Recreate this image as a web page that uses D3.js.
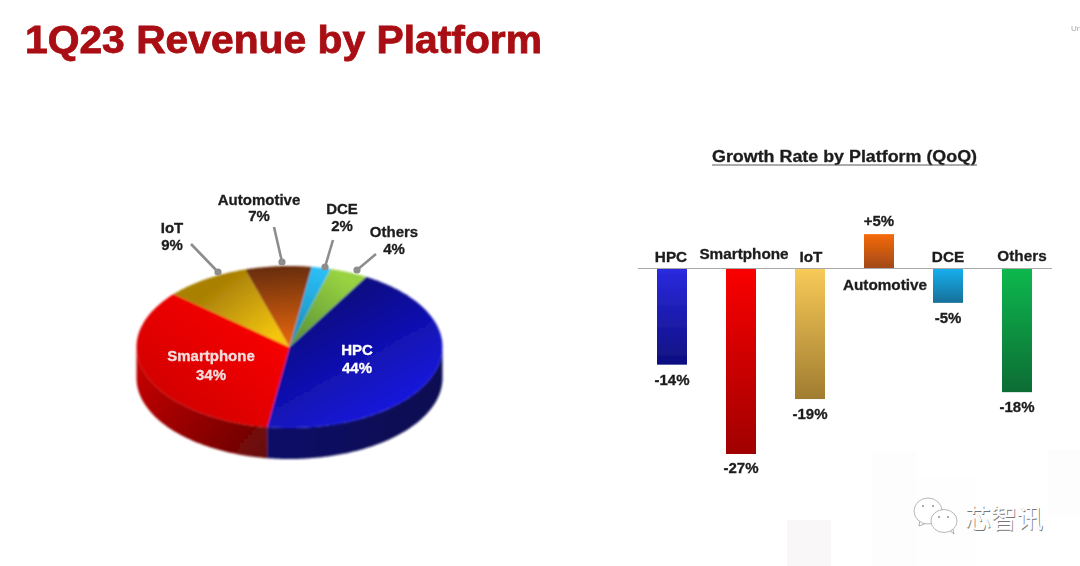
<!DOCTYPE html>
<html><head><meta charset="utf-8">
<script src="https://cdn.jsdelivr.net/npm/d3@7"></script>
<style>
html,body{margin:0;padding:0;background:#fff;overflow:hidden}
svg{display:block}
</style></head><body>
<svg id="c" width="1080" height="566" font-family="'Liberation Sans'" font-weight="bold"></svg>
<script>
// ---- data ----
const pieLabels = ["HPC","Smartphone","IoT","Automotive","DCE","Others"];
const pieValues = [44,34,9,7,2,4];
const barLabels = ["HPC","Smartphone","IoT","Automotive","DCE","Others"];
const barValues = [-14,-27,-19,5,-5,-18];
const barValueText = ["-14%","-27%","-19%","+5%","-5%","-18%"];
// face gradient [x1,y1,x2,y2, from, to]; wall gradient the same
const faceColors = [
  [330,285,400,410,"#0c0c78","#1616e0"],
  [270,330,190,425,"#f80000","#d20000"],
  [225,280,270,340,"#a98006","#f4c60c"],
  [280,268,285,340,"#6a2e08","#e0640a"],
  [320,268,295,340,"#2cc0f8","#1a8cb8"],
  [345,280,295,340,"#98d240","#5a9438"]
];
const wallColors = [
  [290,420,420,440,"#0f0f66","#0a0a52"],
  [137,350,265,459,"#cc0000","#640808"]
];
const barColors = [
  ["#2a2ae0","#0f0f80"],["#fa0000","#a00000"],["#f8ca58","#a07c30"],
  ["#f56a06","#a0481a"],["#18b0ee","#176f98"],["#0cb84e","#0a6c34"]
];
// ---- layout ----
const svg = d3.select("#c");
const defs = svg.append("defs");
const mkBlur=(id,s)=>defs.append("filter").attr("id",id).attr("filterUnits","userSpaceOnUse").attr("x",0).attr("y",0).attr("width",1080).attr("height",566)
  .append("feGaussianBlur").attr("stdDeviation",s);
mkBlur("soft",0.6); mkBlur("softer",0.8);

// faint background squares
const bgSquares = [[787,520,44,46,"#f9f7f7"],[872,451,44,115,"#fefdfd"],[916,478,60,88,"#fefefe"],[1048,450,32,66,"#fefdfd"]];
svg.append("g").selectAll("rect").data(bgSquares).join("rect")
  .attr("x",d=>d[0]).attr("y",d=>d[1]).attr("width",d=>d[2]).attr("height",d=>d[3]).attr("fill",d=>d[4]);

const root = svg.append("g").attr("filter","url(#soft)");
const label = (x,y,fs,fill,str,anchor,sw)=>root.append("text").attr("x",x).attr("y",y).attr("font-size",fs)
  .attr("fill",fill).attr("stroke",fill).attr("stroke-width",sw===undefined?0.3:sw).attr("text-anchor",anchor||"middle").text(str);

// title
label(25,53,38.5,"#a90d12","1Q23 Revenue by Platform","start",0.8).attr("textLength",517).attr("lengthAdjust","spacingAndGlyphs");
label(1071,31,8,"#a8a8a8","Un","start",0).attr("font-weight","normal");

// ---- 3D pie ----
const cx=289.5, cy=347, rx=153, ry=81, depth=31;
const pie = d3.pie().sort(null).startAngle(30*Math.PI/180).endAngle(390*Math.PI/180);
const arcs = pie(pieValues);
const px = a=>cx+rx*Math.sin(a), py = a=>cy-ry*Math.cos(a);
const pieG = root.append("g").attr("filter","url(#softer)");
const grad=(id,c)=>{
  const g=defs.append("linearGradient").attr("id",id).attr("gradientUnits","userSpaceOnUse")
    .attr("x1",c[0]).attr("y1",c[1]).attr("x2",c[2]).attr("y2",c[3]);
  g.append("stop").attr("offset",0).attr("stop-color",c[4]);
  g.append("stop").attr("offset",1).attr("stop-color",c[5]);
};
// wall
const wall = d3.area().x(a=>px(a)).y0(a=>py(a)).y1(a=>py(a)+depth);
arcs.forEach((d,i)=>{
  const a0=Math.max(d.startAngle,Math.PI/2), a1=Math.min(d.endAngle,3*Math.PI/2);
  if(a1<=a0) return;
  grad("w"+i,wallColors[i]);
  pieG.append("path").attr("d",wall(d3.range(a0,a1,0.02).concat([a1]))).attr("fill",`url(#w${i})`);
});
// top face
const arcPath = d=>{
  const pts=d3.range(d.startAngle,d.endAngle,0.02).concat([d.endAngle]).map(a=>[px(a),py(a)]);
  return d3.line()([[cx,cy],...pts])+"Z";
};
arcs.forEach((d,i)=>{
  grad("p"+i,faceColors[i]);
  pieG.append("path").attr("d",arcPath(d)).attr("fill",`url(#p${i})`);
});

// pie labels
const pieText = [
  {x:357,y:[355,373],c:"#fff",fs:15},
  {x:211,y:[361,380],c:"#f3dede",fs:15},
  {x:172,y:[233,250],c:"#1c1c1c",fs:15},
  {x:259,y:[205,221],c:"#1c1c1c",fs:15},
  {x:342,y:[214,231],c:"#1c1c1c",fs:15},
  {x:394,y:[237,254],c:"#1c1c1c",fs:15}
];
pieText.forEach((t,i)=>{
  label(t.x,t.y[0],t.fs,t.c,pieLabels[i]);
  label(t.x,t.y[1],t.fs,t.c,pieValues[i]+"%");
});
// leader lines
const leaders = [[[191,244],[218,272]],[[274,227],[282,262]],[[333,240],[325,267]],[[376,254],[357,270]]];
const lead = root.append("g");
leaders.forEach(l=>{
  lead.append("line").attr("x1",l[0][0]).attr("y1",l[0][1]).attr("x2",l[1][0]).attr("y2",l[1][1])
    .attr("stroke","#8d8d8d").attr("stroke-width",2.6);
  lead.append("circle").attr("cx",l[1][0]).attr("cy",l[1][1]).attr("r",3.6).attr("fill","#8d8d8d");
});

// ---- bars ----
const yZero=268.5, pxPerPct=6.87;
const x = d3.scaleBand().domain(barLabels).range([657,1032]).paddingInner(39/69).paddingOuter(0);
const y = d3.scaleLinear().domain([0,1]).range([yZero,yZero-pxPerPct]);
const barG = root.append("g");
barValues.forEach((v,i)=>{
  const g=defs.append("linearGradient").attr("id","b"+i).attr("x1",0).attr("y1",0).attr("x2",0).attr("y2",1);
  g.append("stop").attr("offset",0).attr("stop-color",barColors[i][0]);
  g.append("stop").attr("offset",1).attr("stop-color",barColors[i][1]);
});
barG.selectAll("rect").data(barLabels).join("rect")
  .attr("x",d=>x(d)).attr("width",x.bandwidth())
  .attr("y",(d,i)=>Math.min(y(0),y(barValues[i])))
  .attr("height",(d,i)=>Math.abs(y(barValues[i])-y(0)))
  .attr("fill",(d,i)=>`url(#b${i})`);
root.append("line").attr("x1",638).attr("x2",1052).attr("y1",yZero).attr("y2",yZero).attr("stroke","#a9a9a9").attr("stroke-width",1.2);

// chart title
label(844.5,162,16,"#1c1c1c","Growth Rate by Platform (QoQ)").attr("textLength",265).attr("lengthAdjust","spacingAndGlyphs");
root.append("line").attr("x1",712).attr("x2",977).attr("y1",165).attr("y2",165).attr("stroke","#5a5a5a").attr("stroke-width",1.2);

// bar texts
const nameX=[671,744,811,885,948,1022], nameY=[262,259,262,290,262,261];
const valX=[672,741,810,879,948,1017], valY=[385,473,419,226,323,412];
barLabels.forEach((n,i)=>{
  label(nameX[i],nameY[i],15.3,"#1c1c1c",n);
  label(valX[i],valY[i],15,"#1c1c1c",barValueText[i]);
});

// watermark
const wm = svg.append("g");
const bubble=(bx,by,r,ry,tail)=>{
  wm.append("path").attr("d",d3.line()(tail)).attr("fill","none").attr("stroke","#9a9a9a").attr("stroke-width",0.8);
  wm.append("ellipse").attr("cx",bx).attr("cy",by).attr("rx",r).attr("ry",ry).attr("fill","#fff").attr("stroke","#a6a6a6").attr("stroke-width",0.8);
};
bubble(928,511,14,13,[[920,520],[919,526],[927,523]]); bubble(944,521,13,11.5,[[948,529],[954,534],[952,526]]);
[[923,506],[933,506],[939,517],[948,517]].forEach(p=>wm.append("circle").attr("cx",p[0]).attr("cy",p[1]).attr("r",1.1).attr("fill","#999"));
const wmText=(dx,fill)=>wm.append("text").attr("x",965+dx).attr("y",528+dx).attr("font-size",26).attr("fill",fill)
  .attr("font-family","'Noto Sans CJK SC'").attr("font-weight","normal").text("芯智讯");
wmText(0.8,"#777"); wmText(0,"#fff");
</script>
</body></html>
